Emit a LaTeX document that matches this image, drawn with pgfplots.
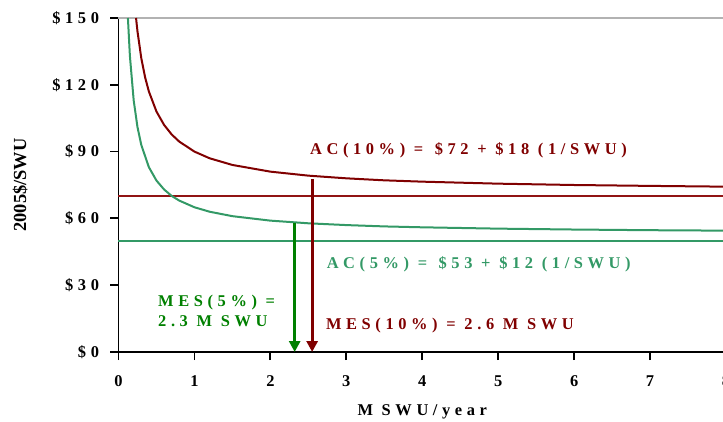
\documentclass[border=0pt]{standalone}
\usepackage{fontspec}
\setmainfont{Liberation Serif}
\newfontfamily\spc[LetterSpace=28]{Liberation Serif}
\usepackage{pgfplots}
\pgfplotsset{compat=1.18}
\usetikzlibrary{arrows.meta}
\definecolor{dred}{RGB}{128,0,0}
\definecolor{sgreen}{RGB}{51,153,102}
\definecolor{ggreen}{RGB}{0,128,0}
\definecolor{lred}{RGB}{145,20,20}
\newcommand{\lf}{\spc\bfseries\fontsize{16.5}{20}\selectfont}
\begin{document}
\begin{tikzpicture}
\begin{axis}[
  at={(0,0)}, anchor=south west,
  scale only axis, width=607.5bp, height=334bp,
  xmin=0, xmax=8, ymin=0, ymax=150,
  axis x line=bottom, axis y line=left,
  axis line style={-, line width=1.8bp, black},
  xtick={0,1,...,8}, ytick={0,30,...,150},
  tick style={line width=1.8bp, black},
  major tick length=8bp,
  tick align=outside,
  /pgf/number format/assume math mode=true,
  ticklabel style={font=\lf},
  xticklabel style={yshift=-12bp},
  yticklabel style={xshift=-8bp},
  yticklabel={\$\pgfmathprintnumber{\tick}},
  clip=false,
  xlabel={M SWU/year},
  ylabel={2005\$/SWU},
  xlabel style={font=\lf, at={(axis description cs:0.5,-0.18)}, anchor=center},
  ylabel style={font=\bfseries\fontsize{18.5}{22}\selectfont, at={(axis description cs:-0.162,0.5)}, anchor=center},
]
\addplot[gray!60, line width=1.2bp] coordinates {(0,150) (8,150)};
\addplot[lred, line width=2bp] coordinates {(0,70) (8,70)};
\addplot[sgreen, line width=2bp] coordinates {(0,50) (8,50)};
\addplot[dred, line width=2bp] coordinates {
(0.231,150) (0.25,144) (0.3,132) (0.35,123.4) (0.4,117) (0.5,108) (0.6,102) (0.7,97.7) (0.8,94.5) (1,90) (1.2,87) (1.5,84) (2,81) (2.5,79.2) (3,78) (3.5,77.1) (4,76.5) (5,75.6) (6,75) (7,74.6) (8,74.25)};
\addplot[sgreen, line width=2bp] coordinates {
(0.124,150) (0.15,133) (0.2,113) (0.25,101) (0.3,93) (0.4,83) (0.5,77) (0.6,73) (0.7,70.1) (0.8,68) (1,65) (1.2,63) (1.5,61) (2,59) (2.5,57.8) (3,57) (3.5,56.4) (4,56) (5,55.4) (6,55) (7,54.7) (8,54.5)};
\addplot[ggreen, line width=2.8bp, -{Triangle[width=11bp,length=11bp]}] coordinates {(2.32,58) (2.32,0)};
\addplot[dred, line width=2.8bp, -{Triangle[width=11bp,length=11bp]}] coordinates {(2.55,77.5) (2.55,0)};
\node[anchor=west, text=dred, font=\lf, inner sep=0pt] at (axis cs:2.52,90.7) {AC(10\%) = \,\$72 + \$18 (1/SWU)};
\node[anchor=west, text=sgreen, font=\lf, inner sep=0pt] at (axis cs:2.74,39.5) {AC(5\%) = \,\$53 + \$12 (1/SWU)};
\node[anchor=west, text=ggreen, font=\lf, inner sep=0pt, align=left] at (axis cs:0.52,18.4) {MES(5\%) =\\2.3 M SWU};
\node[anchor=west, text=dred, font=\lf, inner sep=0pt] at (axis cs:2.73,11.7) {MES(10\%) = 2.6 M SWU};
\end{axis}
\pgfresetboundingbox
\path[use as bounding box] (-118.5bp,-70bp) rectangle (604.5bp,352bp);
\end{tikzpicture}
\end{document}
